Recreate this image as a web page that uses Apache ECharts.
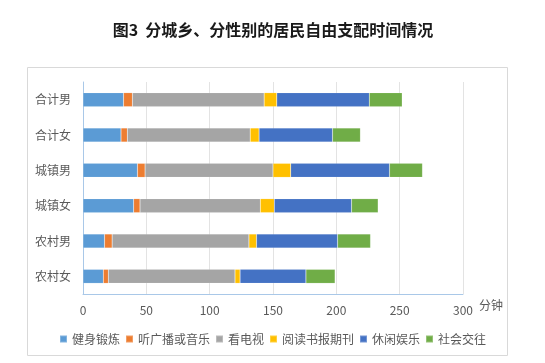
<!DOCTYPE html>
<html>
<head>
<meta charset="utf-8">
<script src="https://cdn.jsdelivr.net/npm/echarts@6/dist/echarts.min.js"></script>
<style>
html,body{margin:0;padding:0;background:#fff;}
#main{width:545px;height:363px;}
</style>
</head>
<body>
<div id="main"></div>
<script>
var categories = ['合计男', '合计女', '城镇男', '城镇女', '农村男', '农村女'];
var seriesNames = ['健身锻炼', '听广播或音乐', '看电视', '阅读书报期刊', '休闲娱乐', '社会交往'];
var fitness = [32, 30, 43, 40, 17, 16];
var radioMusic = [7, 5, 6, 5, 6, 4];
var watchTV = [104, 97, 101, 95, 108, 100];
var reading = [10, 7, 14, 11, 6, 4];
var leisure = [73, 58, 78, 61, 64, 52];
var social = [26, 22, 26, 21, 26, 23];
var xTicks = [0, 50, 100, 150, 200, 250, 300];

var colors = ['#5B9BD5', '#ED7D31', '#A5A5A5', '#FFC000', '#4472C4', '#70AD47'];
var values = [fitness, radioMusic, watchTV, reading, leisure, social];
var font = '"Noto Sans CJK SC", "Microsoft YaHei", sans-serif';

var chart = echarts.init(document.getElementById('main'));
chart.setOption({
  animation: false,
  title: {
    text: '图3  分城乡、分性别的居民自由支配时间情况',
    left: 268, top: 17, textAlign: 'center',
    textStyle: { fontFamily: font, fontSize: 16, fontWeight: 'bold', color: '#1a1a1a' }
  },
  graphic: [{
    type: 'rect', shape: { x: 27.5, y: 67.5, width: 480, height: 288 },
    style: { fill: 'none', stroke: '#D9D9D9', lineWidth: 1 }, z: -10
  }],
  legend: {
    data: seriesNames, left: 'center', top: 328,
    itemWidth: 7, itemHeight: 7, itemGap: 5, icon: 'rect',
    textStyle: { fontFamily: font, fontSize: 12, color: '#595959' }
  },
  grid: { left: 83, top: 82, width: 380, height: 212, containLabel: false },
  xAxis: {
    type: 'value', min: xTicks[0], max: xTicks[xTicks.length - 1], interval: 50,
    name: '分钟', nameLocation: 'end', nameGap: 12,
    nameTextStyle: { fontFamily: font, fontSize: 12, color: '#595959', verticalAlign: 'top', padding: [5, 0, 0, 0] },
    axisLine: { show: true, lineStyle: { color: '#A9C8E8', width: 1 } },
    axisTick: { show: false },
    axisLabel: { fontFamily: font, fontSize: 12, color: '#595959', margin: 10 },
    splitLine: { show: true, lineStyle: { color: '#E3E3E3', width: 1 } }
  },
  yAxis: {
    type: 'category', data: categories, inverse: true,
    axisLine: { show: true, lineStyle: { color: '#A9C8E8', width: 1 } },
    axisTick: { show: false },
    axisLabel: { fontFamily: font, fontSize: 12, color: '#595959', margin: 12 }
  },
  series: seriesNames.map(function (n, i) {
    return {
      name: n, type: 'bar', stack: 'total', data: values[i], barWidth: 14,
      itemStyle: { color: colors[i], borderColor: 'rgba(255,255,255,0.25)', borderWidth: 0.5 }
    };
  })
});
</script>
</body>
</html>
